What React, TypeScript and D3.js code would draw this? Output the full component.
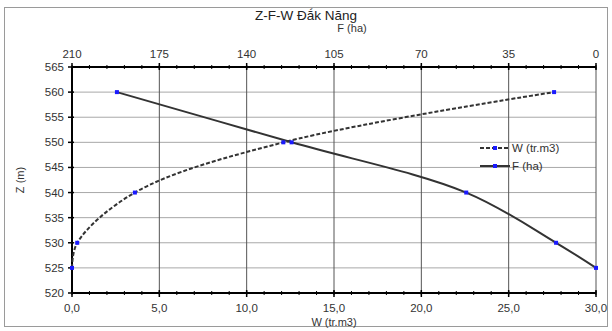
import { useEffect, useRef } from 'react'
import * as d3 from 'd3'

// elevation levels (m)
const levels = [525, 530, 540, 550, 560]
// reservoir volume W (tr.m3) at each level
const volumes = [0, 0.3, 3.6, 12.1, 27.6]
// reservoir area F (ha) at each level
const areas = [0, 16, 52, 122, 192]

const zTicks = [520, 525, 530, 535, 540, 545, 550, 555, 560, 565]
const wTicks = [0, 5, 10, 15, 20, 25, 30]
const fTicks = [210, 175, 140, 105, 70, 35, 0]

const width = 612
const height = 331

export default function App() {
  const svgRef = useRef<SVGSVGElement>(null)

  useEffect(() => {
    if (!svgRef.current) return
    const svg = d3.select(svgRef.current)
    svg.selectAll('*').remove()

    const margin = { top: 67, right: 16, bottom: 38, left: 72 }
    const innerWidth = width - margin.left - margin.right
    const innerHeight = height - margin.top - margin.bottom
    const font = 'Liberation Sans, Arial, sans-serif'

    // outer frame
    svg.append('rect')
      .attr('x', 4.5).attr('y', 7.5)
      .attr('width', width - 9).attr('height', height - 12)
      .attr('fill', '#fff')
      .attr('stroke', '#9a9a9a')
      .attr('stroke-width', 1)

    const g = svg.append('g')
      .attr('transform', `translate(${margin.left},${margin.top})`)

    const x = d3.scaleLinear().domain([0, 30]).range([0, innerWidth])
    const xf = d3.scaleLinear().domain([210, 0]).range([0, innerWidth])
    const y = d3.scaleLinear().domain([520, 565]).range([innerHeight, 0])

    // horizontal grid
    g.selectAll('.hgrid')
      .data(zTicks.slice(1))
      .enter().append('line')
      .attr('x1', 0).attr('x2', innerWidth)
      .attr('y1', d => y(d)).attr('y2', d => y(d))
      .attr('stroke', '#a8a8a8')
      .attr('stroke-width', 1)

    // vertical grid
    g.selectAll('.vgrid')
      .data(wTicks.slice(1))
      .enter().append('line')
      .attr('x1', d => x(d)).attr('x2', d => x(d))
      .attr('y1', 0).attr('y2', innerHeight)
      .attr('stroke', '#555')
      .attr('stroke-width', 1)

    // bottom axis (W)
    const bottom = g.append('g')
      .attr('transform', `translate(0,${innerHeight})`)
    bottom.append('line')
      .attr('x1', 0).attr('x2', innerWidth)
      .attr('stroke', '#000').attr('stroke-width', 2)
    bottom.selectAll('.minor')
      .data(d3.range(0, 30.01, 1))
      .enter().append('line')
      .attr('x1', d => x(d)).attr('x2', d => x(d))
      .attr('y1', -2).attr('y2', 2)
      .attr('stroke', '#000')
    bottom.selectAll('.major')
      .data(wTicks)
      .enter().append('line')
      .attr('x1', d => x(d)).attr('x2', d => x(d))
      .attr('y1', -3).attr('y2', 4)
      .attr('stroke', '#000').attr('stroke-width', 1.5)
    bottom.selectAll('.lbl')
      .data(wTicks)
      .enter().append('text')
      .attr('x', d => x(d))
      .attr('y', 19)
      .attr('text-anchor', 'middle')
      .attr('font-family', font)
      .attr('font-size', 11.5)
      .attr('fill', '#333')
      .text(d => d3.format('.1f')(d).replace('.', ','))
    bottom.append('text')
      .attr('x', x(15))
      .attr('y', 33)
      .attr('text-anchor', 'middle')
      .attr('font-family', font)
      .attr('font-size', 11)
      .attr('fill', '#333')
      .text('W (tr.m3)')

    // top axis (F)
    const top = g.append('g')
    top.append('line')
      .attr('x1', 0).attr('x2', innerWidth)
      .attr('stroke', '#000').attr('stroke-width', 2)
    top.selectAll('.minor')
      .data(d3.range(0, 210.01, 7))
      .enter().append('line')
      .attr('x1', d => xf(d)).attr('x2', d => xf(d))
      .attr('y1', -2).attr('y2', 2)
      .attr('stroke', '#000')
    top.selectAll('.major')
      .data(fTicks)
      .enter().append('line')
      .attr('x1', d => xf(d)).attr('x2', d => xf(d))
      .attr('y1', -4).attr('y2', 3)
      .attr('stroke', '#000').attr('stroke-width', 1.5)
    top.selectAll('.lbl')
      .data(fTicks)
      .enter().append('text')
      .attr('x', d => xf(d))
      .attr('y', -9)
      .attr('text-anchor', 'middle')
      .attr('font-family', font)
      .attr('font-size', 11.5)
      .attr('fill', '#333')
      .text(d => String(d))
    top.append('text')
      .attr('x', xf(105) + 18)
      .attr('y', -35)
      .attr('text-anchor', 'middle')
      .attr('font-family', font)
      .attr('font-size', 11)
      .attr('fill', '#333')
      .text('F (ha)')

    // left axis (Z)
    const left = g.append('g')
    left.append('line')
      .attr('y1', 0).attr('y2', innerHeight)
      .attr('stroke', '#000').attr('stroke-width', 2)
    left.selectAll('.major')
      .data(zTicks)
      .enter().append('line')
      .attr('x1', -4).attr('x2', 2)
      .attr('y1', d => y(d)).attr('y2', d => y(d))
      .attr('stroke', '#000').attr('stroke-width', 1.5)
    left.selectAll('.lbl')
      .data(zTicks)
      .enter().append('text')
      .attr('x', -8)
      .attr('y', d => y(d))
      .attr('dy', '0.35em')
      .attr('text-anchor', 'end')
      .attr('font-family', font)
      .attr('font-size', 11.5)
      .attr('fill', '#333')
      .text(d => String(d))
    left.append('text')
      .attr('transform', `translate(-48,${y(542.5)}) rotate(-90)`)
      .attr('text-anchor', 'middle')
      .attr('font-family', font)
      .attr('font-size', 11)
      .attr('fill', '#333')
      .text('Z (m)')

    // series
    const wData = levels.map((z, i) => ({ z, v: volumes[i] }))
    const fData = levels.map((z, i) => ({ z, v: areas[i] }))

    const wLine = d3.line<{ z: number; v: number }>()
      .x(d => x(d.v)).y(d => y(d.z))
      .curve(d3.curveCatmullRom.alpha(0.5))
    const fLine = d3.line<{ z: number; v: number }>()
      .x(d => xf(d.v)).y(d => y(d.z))
      .curve(d3.curveCatmullRom.alpha(0.5))

    g.append('path')
      .datum(wData)
      .attr('fill', 'none')
      .attr('stroke', '#333')
      .attr('stroke-width', 2)
      .attr('stroke-dasharray', '4,2')
      .attr('d', wLine)

    g.append('path')
      .datum(fData)
      .attr('fill', 'none')
      .attr('stroke', '#333')
      .attr('stroke-width', 2)
      .attr('d', fLine)

    const marker = (sel: any, xs: (d: any) => number) =>
      sel.enter().append('rect')
        .attr('x', (d: any) => xs(d) - 2)
        .attr('y', (d: any) => y(d.z) - 2)
        .attr('width', 4).attr('height', 4)
        .attr('fill', '#1a1aff')

    marker(g.selectAll('.wdot').data(wData), d => x(d.v))
    marker(g.selectAll('.fdot').data(fData), d => xf(d.v))

    // legend
    const legend = [
      { label: 'W (tr.m3)', dash: '4,2', yy: 148 },
      { label: 'F (ha)', dash: null, yy: 166 },
    ]
    const lg = svg.append('g')
    legend.forEach(item => {
      lg.append('line')
        .attr('x1', 480).attr('x2', 510)
        .attr('y1', item.yy).attr('y2', item.yy)
        .attr('stroke', '#333').attr('stroke-width', 2)
        .attr('stroke-dasharray', item.dash)
      lg.append('rect')
        .attr('x', 493).attr('y', item.yy - 2)
        .attr('width', 4).attr('height', 4)
        .attr('fill', '#1a1aff')
      lg.append('text')
        .attr('x', 512).attr('y', item.yy)
        .attr('dy', '0.35em')
        .attr('font-family', font)
        .attr('font-size', 11.5)
        .attr('fill', '#333')
        .text(item.label)
    })

    // title
    svg.append('text')
      .attr('x', 306).attr('y', 20)
      .attr('text-anchor', 'middle')
      .attr('font-family', font)
      .attr('font-size', 13.5)
      .attr('fill', '#222')
      .text('Z-F-W Đắk Năng')
  }, [])

  return (
    <svg
      ref={svgRef}
      width={width}
      height={height}
      style={{ position: 'absolute', left: 0, top: 0, background: '#fff' }}
    />
  )
}
